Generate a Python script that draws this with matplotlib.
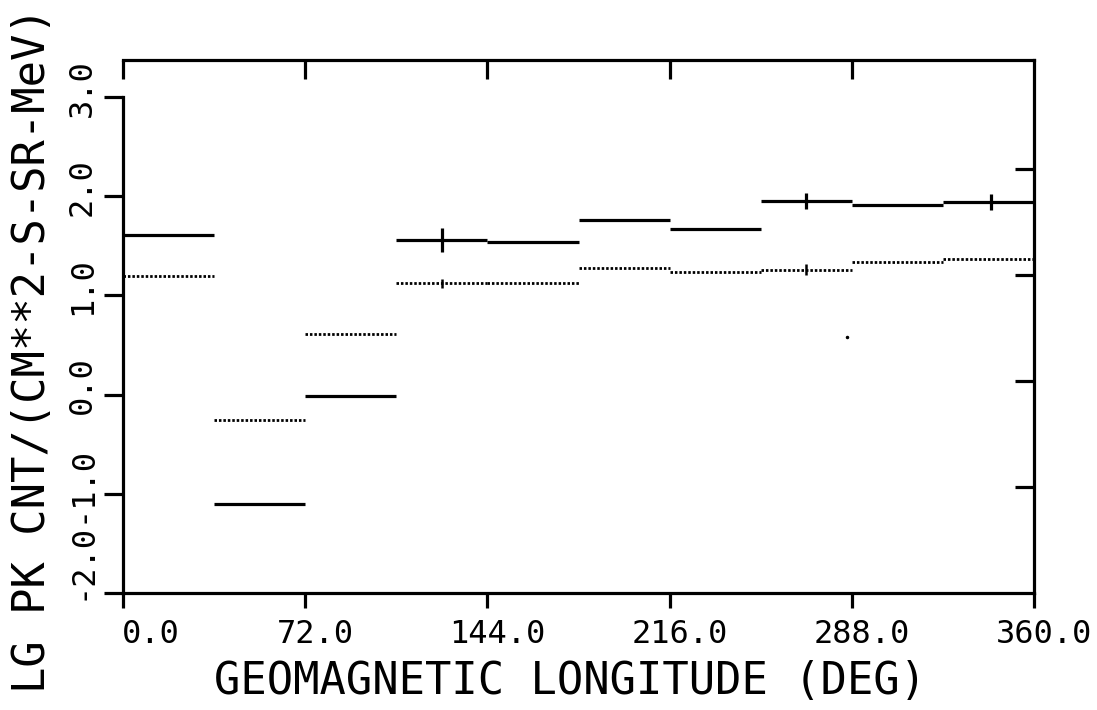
""" peak count rate vs geomagnetic longitude, plotter style """
import matplotlib
matplotlib.use("Agg")
import matplotlib.pyplot as plt
import matplotlib.transforms as mtransforms

# 36 degree longitude bins
lon_edges = [0, 36, 72, 108, 144, 180, 216, 252, 288, 324, 360]
peak_solid = [1.61, -1.10, -0.01, 1.56, 1.54, 1.76, 1.67, 1.95, 1.91, 1.94]
peak_dotted = [1.20, -0.26, 0.61, 1.12, 1.13, 1.28, 1.24, 1.26, 1.34, 1.37]

# error bars drawn on a few bins
err_lon_solid = [126, 270, 343]
err_mid_solid = [1.56, 1.95, 1.94]
err_solid = [0.12, 0.08, 0.08]
err_lon_dotted = [126, 270]
err_mid_dotted = [1.12, 1.26]
err_dotted = [0.05, 0.055]

# lone plotted point
stray_lon = [286]
stray_val = [0.58]

x_ticks = [0, 72, 144, 216, 288, 360]
x_ticklabels = ["0.0", "72.0", "144.0", "216.0", "288.0", "360.0"]
y_ticks = [-2, -1, 0, 1, 2, 3]
y_ticklabels = ["-2.0", "-1.0", "0.0", "1.0", "2.0", "3.0"]
right_ticks = [1, 2, 3, 4]

plt.rcParams["font.family"] = ["DejaVu Sans Mono", "DejaVu Sans"]

W, H = 1097, 710
fig = plt.figure(figsize=(W / 100, H / 100), dpi=100, facecolor="w")
ax = fig.add_axes([123 / W, 1 - 593 / H, (1034 - 123) / W, (593 - 60) / H])

lw = 2.3
ax.hlines(peak_solid, lon_edges[:-1], lon_edges[1:], colors="k", linewidth=lw)
ax.hlines(peak_dotted, lon_edges[:-1], lon_edges[1:], colors="k",
          linewidth=2.0, linestyles=[(0, (0.9, 0.7))])
ax.vlines(err_lon_solid, [m - e for m, e in zip(err_mid_solid, err_solid)],
          [m + e for m, e in zip(err_mid_solid, err_solid)], colors="k", linewidth=lw)
ax.vlines(err_lon_dotted, [m - e for m, e in zip(err_mid_dotted, err_dotted)],
          [m + e for m, e in zip(err_mid_dotted, err_dotted)], colors="k", linewidth=1.8)
ax.plot(stray_lon, stray_val, "k.", markersize=3)

ax.set_xlim(0, 360)
ax.set_ylim(-2, 3 + 37 / 99.2)

for s in ax.spines.values():
    s.set_linewidth(lw)
ax.spines["left"].set_bounds(-2, 3)

ax.set_xticks(x_ticks)
ax.set_xticklabels(x_ticklabels, fontsize=23)
ax.set_yticks(y_ticks)
ax.set_yticklabels(y_ticklabels, fontsize=23, rotation=90, va="center")
ax.tick_params(axis="x", direction="out", length=11, width=lw, pad=8)
ax.tick_params(axis="y", direction="out", length=14, width=lw, pad=4)

# nudge tick labels like the plotter did
for i, lab in enumerate(ax.get_xticklabels()):
    dx = 28 if i == 0 else 10
    lab.set_transform(lab.get_transform() + mtransforms.ScaledTranslation(dx / 100, 0, fig.dpi_scale_trans))
for i, lab in enumerate(ax.get_yticklabels()):
    dy = 31 if i == 0 else 9
    lab.set_transform(lab.get_transform() + mtransforms.ScaledTranslation(0, dy / 100, fig.dpi_scale_trans))

# inward ticks along the top
top = ax.secondary_xaxis("top")
top.set_xticks(x_ticks[:-1])
top.set_xticklabels([])
top.tick_params(direction="in", length=14, width=lw)
top.spines["top"].set_visible(False)

# right axis has its own inward ticks
rax = ax.twinx()
rax.set_ylim(0, 533 / 106)
rax.set_yticks(right_ticks)
rax.set_yticklabels([])
rax.tick_params(axis="y", direction="in", length=14, width=lw)
for s in rax.spines.values():
    s.set_visible(False)

fig.text(570 / W, 1 - 681 / H, "GEOMAGNETIC LONGITUDE (DEG)", fontsize=31.5,
         ha="center", va="center")
fig.text(33 / W, 1 - 350 / H, "LG PK CNT/(CM**2-S-SR-MeV)", fontsize=31.5,
         rotation=90, ha="center", va="center")

plt.savefig("out.png", dpi=100)
